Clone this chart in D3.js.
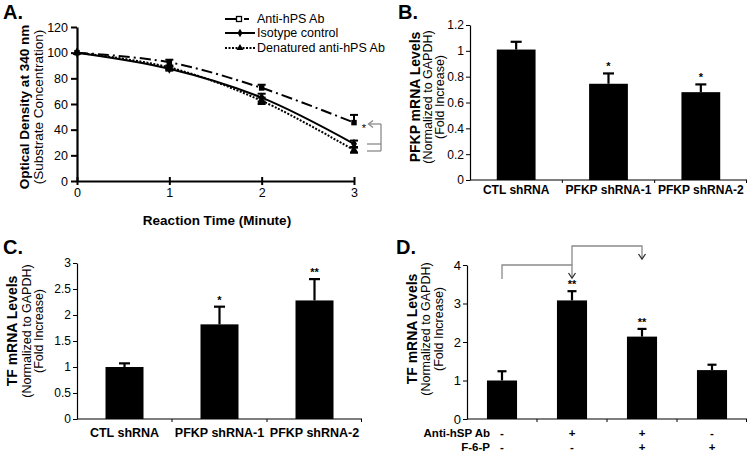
<!DOCTYPE html>
<html><head><meta charset="utf-8">
<script src="https://cdn.jsdelivr.net/npm/d3@7"></script>
<style>
body{margin:0;background:#fff;}
svg{display:block;font-family:"Liberation Sans",Arial,sans-serif;}
</style></head>
<body><svg id="c" width="750" height="455"></svg>
<script>
// ---------- DATA ----------
// Panel A
const timesA = [0, 1, 2, 3];
const xTicksA = [0, 1, 2, 3];
const yTicksA = [0, 20, 40, 60, 80, 100, 120];
const antiHPS = [100, 92.5, 72.5, 45.5];
const antiHPSErr = [0, 2, 2.5, 6];
const isotype = [100, 87.5, 65, 29];
const isotypeErr = [0, 1.5, 3, 2.5];
const denatured = [100, 88.5, 62.5, 24];
const denaturedErr = [0, 1.5, 2.5, 2];
const legendA = ["Anti-hPS Ab", "Isotype control", "Denatured anti-hPS Ab"];
// Panel B
const catsB = ["CTL shRNA", "PFKP shRNA-1", "PFKP shRNA-2"];
const valsB = [1.01, 0.745, 0.68];
const errB = [0.06, 0.08, 0.06];
const sigB = ["", "*", "*"];
const yTicksB = [0, 0.2, 0.4, 0.6, 0.8, 1, 1.2];
// Panel C
const catsC = ["CTL shRNA", "PFKP shRNA-1", "PFKP shRNA-2"];
const valsC = [1.0, 1.82, 2.28];
const errC = [0.07, 0.34, 0.41];
const sigC = ["", "*", "**"];
const yTicksC = [0, 0.5, 1, 1.5, 2, 2.5, 3];
// Panel D
const catsD = ["g1", "g2", "g3", "g4"];
const antiHSP = ["-", "+", "+", "-"];
const f6p = ["-", "-", "+", "+"];
const valsD = [1.0, 3.08, 2.14, 1.27];
const errD = [0.24, 0.24, 0.2, 0.14];
const sigD = ["", "**", "**", ""];
const yTicksD = [0, 1, 2, 3, 4];

const svg = d3.select("#c");
const FONT = '"Liberation Sans",Arial,sans-serif';

function panelLetter(t, x, y) {
  svg.append("text").attr("x", x).attr("y", y).text(t)
    .attr("font-size", 20).attr("font-weight", "bold");
}
function yTitle(lines, x, cy) {
  lines.forEach(l => {
    svg.append("text").attr("transform", `translate(${l.x},${cy}) rotate(-90)`)
      .attr("text-anchor", "middle").attr("dominant-baseline", "central")
      .attr("font-size", l.size).attr("font-weight", l.bold ? "bold" : "normal")
      .text(l.t);
  });
}

// ---------- Panel A ----------
const xA = d3.scaleLinear().domain([0, 3]).range([77, 354]);
const yA = d3.scaleLinear().domain([0, 120]).range([181, 27]);

const gyA = svg.append("g").attr("transform", `translate(${xA(0)},0)`)
  .call(d3.axisLeft(yA).tickValues(yTicksA).tickSize(6).tickSizeOuter(0).tickPadding(3));
gyA.select(".domain").attr("stroke-width", 2.2);
gyA.selectAll(".tick line").attr("stroke-width", 2);
gyA.selectAll("text").attr("font-size", 12.5).attr("font-family", FONT);

const gxA = svg.append("g").attr("transform", `translate(0,${yA(0)})`)
  .call(d3.axisBottom(xA).tickValues(xTicksA).tickFormat(d3.format("d")).tickSize(4).tickSizeOuter(0).tickPadding(3));
gxA.select(".domain").attr("stroke-width", 2.2);
gxA.selectAll(".tick line").attr("y1", -4).attr("stroke-width", 2);
gxA.selectAll("text").attr("font-size", 12.5).attr("font-family", FONT);

svg.append("text").attr("x", 217).attr("y", 225).attr("text-anchor", "middle")
  .attr("font-size", 13.5).attr("font-weight", "bold").text("Reaction Time (Minute)");

yTitle([
  {t: "Optical Density  at 340 nm", x: 24, size: 13.5, bold: true},
  {t: "(Substrate Concentration)", x: 38, size: 13.5, bold: false}
], 0, 107);

const seriesA = [
  {name: legendA[0], vals: antiHPS, err: antiHPSErr, dash: "11,4,2,4", sym: d3.symbolSquare},
  {name: legendA[1], vals: isotype, err: isotypeErr, dash: null, sym: d3.symbolDiamond},
  {name: legendA[2], vals: denatured, err: denaturedErr, dash: "2,1.5", sym: d3.symbolTriangle}
];
const lineA = d3.line().x((d, i) => xA(timesA[i])).y(d => yA(d)).curve(d3.curveCatmullRom.alpha(0.5));
seriesA.forEach(s => {
  svg.append("path").attr("d", lineA(s.vals)).attr("fill", "none").attr("stroke", "#000")
    .attr("stroke-width", 2).attr("stroke-dasharray", s.dash);
  s.vals.forEach((v, i) => {
    if (s.err[i] > 0) {
      const x = xA(timesA[i]);
      const lo = s === seriesA[0] ? v : v - s.err[i];
      svg.append("line").attr("x1", x).attr("x2", x).attr("y1", yA(v + s.err[i])).attr("y2", yA(lo))
        .attr("stroke", "#000").attr("stroke-width", 2);
      svg.append("line").attr("x1", x - 4).attr("x2", x + 4).attr("y1", yA(v + s.err[i])).attr("y2", yA(v + s.err[i]))
        .attr("stroke", "#000").attr("stroke-width", 2);
      if (s !== seriesA[0])
        svg.append("line").attr("x1", x - 4).attr("x2", x + 4).attr("y1", yA(lo)).attr("y2", yA(lo))
          .attr("stroke", "#000").attr("stroke-width", 2);
    }
    svg.append("path").attr("d", d3.symbol().type(s.sym).size(30)())
      .attr("transform", `translate(${xA(timesA[i])},${yA(v)})`).attr("fill", "#000");
  });
});

// legend
const legY = [19, 33, 48];
seriesA.forEach((s, i) => {
  const y = legY[i];
  if (i === 0) {
    svg.append("line").attr("x1", 225).attr("x2", 236).attr("y1", y).attr("y2", y).attr("stroke", "#000").attr("stroke-width", 2);
    svg.append("line").attr("x1", 244).attr("x2", 249).attr("y1", y).attr("y2", y).attr("stroke", "#000").attr("stroke-width", 2);
    svg.append("rect").attr("x", 236.5).attr("y", y - 2.5).attr("width", 5).attr("height", 5)
      .attr("fill", "#fff").attr("stroke", "#000").attr("stroke-width", 1.3);
  } else {
    svg.append("line").attr("x1", 225).attr("x2", 255).attr("y1", y).attr("y2", y).attr("stroke", "#000")
      .attr("stroke-width", 2).attr("stroke-dasharray", s.dash);
    svg.append("path").attr("d", d3.symbol().type(s.sym).size(22)())
      .attr("transform", `translate(240,${y})`).attr("fill", "#000");
  }
  svg.append("text").attr("x", 257).attr("y", y).attr("dominant-baseline", "central")
    .attr("font-size", 12.5).text(s.name);
});

// significance marker A
const gray = "#8a8a8a";
svg.append("text").attr("x", 364).attr("y", yA(antiHPS[3]) + 9).attr("text-anchor", "middle")
  .attr("font-size", 11).text("*");
svg.append("line").attr("x1", 381).attr("x2", 369).attr("y1", 124).attr("y2", 124).attr("stroke", gray).attr("stroke-width", 1.3);
svg.append("path").attr("d", "M373,120.5 L368.5,124 L373,127.5").attr("fill", "none").attr("stroke", gray).attr("stroke-width", 1.3);
svg.append("line").attr("x1", 381).attr("x2", 381).attr("y1", 124).attr("y2", 151).attr("stroke", gray).attr("stroke-width", 1.3);
svg.append("line").attr("x1", 367).attr("x2", 381).attr("y1", 144).attr("y2", 144).attr("stroke", gray).attr("stroke-width", 1.3);
svg.append("line").attr("x1", 367).attr("x2", 381).attr("y1", 151).attr("y2", 151).attr("stroke", gray).attr("stroke-width", 1.3);

panelLetter("A.", 3, 19);

// ---------- Bar panels ----------
function barPanel(o) {
  const x = d3.scaleBand().domain(o.cats).range([o.x0, o.x1]).paddingInner(o.pad).paddingOuter(o.pad / 2);
  const y = d3.scaleLinear().domain([0, o.max]).range([o.yb, o.yt]);
  const gy = svg.append("g").attr("transform", `translate(${o.x0},0)`)
    .call(d3.axisLeft(y).tickValues(o.ticks).tickSize(4).tickSizeOuter(0).tickPadding(2).tickFormat(d3.format("")));
  gy.selectAll("text").attr("font-size", o.tickFs).attr("font-family", FONT);
  gy.select(".domain").attr("stroke-width", 1.2);
  // x axis with ticks at category boundaries
  svg.append("line").attr("x1", o.x0).attr("x2", o.x1).attr("y1", o.yb).attr("y2", o.yb).attr("stroke", "#000").attr("stroke-width", 1.2);
  o.cats.slice(1).forEach(c => {
    const bx = x(c) - x.step() * o.pad / 2;
    svg.append("line").attr("x1", bx).attr("x2", bx).attr("y1", o.yb).attr("y2", o.yb + 3).attr("stroke", "#000");
  });
  svg.append("line").attr("x1", o.x1 - 0.5).attr("x2", o.x1 - 0.5).attr("y1", o.yb).attr("y2", o.yb + 3).attr("stroke", "#000");
  o.cats.forEach((c, i) => {
    const cx = x(c) + x.bandwidth() / 2;
    const v = o.vals[i], e = o.err[i];
    svg.append("line").attr("x1", cx).attr("x2", cx).attr("y1", y(v)).attr("y2", y(v + e)).attr("stroke", "#000").attr("stroke-width", 2.2);
    svg.append("line").attr("x1", cx - o.cap / 2).attr("x2", cx + o.cap / 2).attr("y1", y(v + e)).attr("y2", y(v + e)).attr("stroke", "#000").attr("stroke-width", 2.2);
    svg.append("rect").attr("x", x(c)).attr("y", y(v)).attr("width", x.bandwidth()).attr("height", y(0) - y(v)).attr("fill", "#000");
    if (o.sig[i]) svg.append("text").attr("x", cx).attr("y", y(v + e) - 3).attr("text-anchor", "middle")
      .attr("font-size", 11).attr("font-weight", "bold").text(o.sig[i]);
    if (o.labels) svg.append("text").attr("x", cx).attr("y", o.yb + o.labDy).attr("text-anchor", "middle")
      .attr("font-size", o.labFs).attr("font-weight", "bold").text(o.labels[i]);
  });
  return {x, y};
}

// Panel B
barPanel({cats: catsB, labels: catsB, vals: valsB, err: errB, sig: sigB, ticks: yTicksB, max: 1.2,
  x0: 470, x1: 747, yb: 180, yt: 25, pad: 0.58, cap: 11, tickFs: 12, labFs: 12, labDy: 14});
yTitle([
  {t: "PFKP mRNA Levels", x: 415, size: 14, bold: true},
  {t: "(Normalized to GAPDH)", x: 428, size: 12.5, bold: false},
  {t: "(Fold Increase)", x: 440, size: 12.5, bold: false}
], 0, 97);
panelLetter("B.", 398, 19);

// Panel C
barPanel({cats: catsC, labels: catsC, vals: valsC, err: errC, sig: sigC, ticks: yTicksC, max: 3,
  x0: 77, x1: 362, yb: 419, yt: 263, pad: 0.6, cap: 11, tickFs: 12, labFs: 12.5, labDy: 18});
yTitle([
  {t: "TF mRNA Levels", x: 12, size: 14, bold: true},
  {t: "(Normalized to GAPDH)", x: 26.5, size: 12.5, bold: false},
  {t: "(Fold Increase)", x: 38.5, size: 12.5, bold: false}
], 0, 331);
panelLetter("C.", 3, 254);

// Panel D
const pD = barPanel({cats: catsD, labels: null, vals: valsD, err: errD, sig: sigD, ticks: yTicksD, max: 4,
  x0: 467, x1: 747, yb: 419, yt: 265, pad: 0.57, cap: 9, tickFs: 13, labFs: 12, labDy: 15});
yTitle([
  {t: "TF mRNA Levels", x: 412, size: 14, bold: true},
  {t: "(Normalized to GAPDH)", x: 426, size: 12.5, bold: false},
  {t: "(Fold Increase)", x: 439, size: 12.5, bold: false}
], 0, 329);
panelLetter("D.", 396, 254);
const cxD = c => pD.x(c) + pD.x.bandwidth() / 2;
[["Anti-hSP Ab", antiHSP, 433], ["F-6-P", f6p, 447]].forEach(([lab, arr, y]) => {
  svg.append("text").attr("x", 490).attr("y", y).attr("text-anchor", "end").attr("dominant-baseline", "central")
    .attr("font-size", 11.5).attr("font-weight", "bold").text(lab);
  catsD.forEach((c, i) => svg.append("text").attr("x", cxD(c)).attr("y", y).attr("text-anchor", "middle")
    .attr("dominant-baseline", "central").attr("font-size", 11.5).attr("font-weight", "bold").text(arr[i]));
});
// comparison brackets
function bracket(c1, c2, yTop, yL, yR) {
  const x1 = cxD(c1), x2 = cxD(c2);
  svg.append("path").attr("d", `M${x1},${yL} V${yTop} H${x2} V${yR}`).attr("fill", "none").attr("stroke", gray).attr("stroke-width", 1.3);
  svg.append("path").attr("d", `M${x2 - 3.5},${yR - 5} L${x2},${yR} L${x2 + 3.5},${yR - 5}`).attr("fill", "none").attr("stroke", "#333").attr("stroke-width", 1.3);
}
bracket(catsD[1], catsD[2], 246, 265, 259);
bracket(catsD[0], catsD[1], 265, 279, 278);
</script></body></html>
